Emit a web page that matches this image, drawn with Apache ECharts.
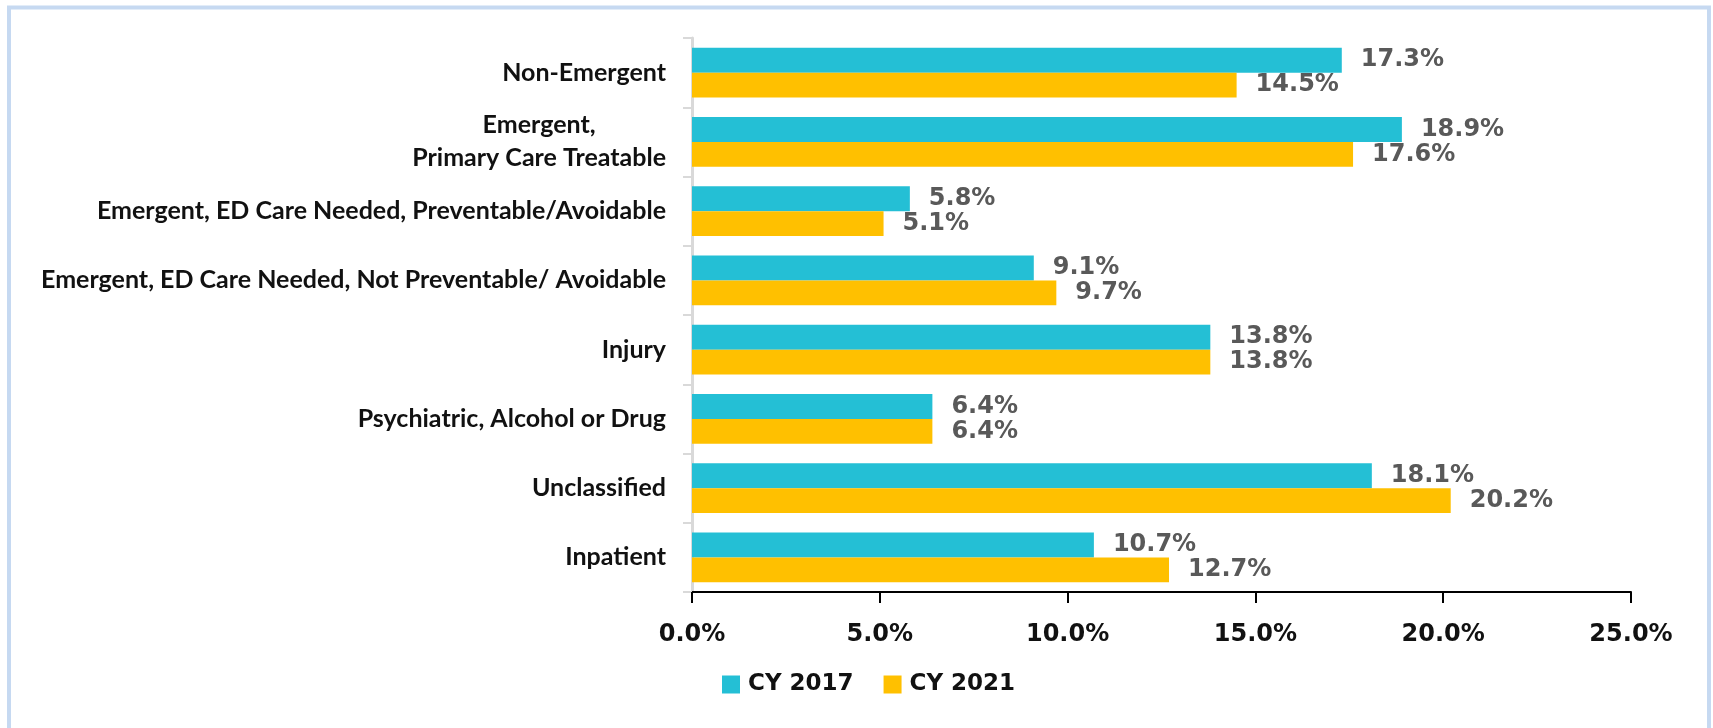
<!DOCTYPE html>
<html>
<head>
<meta charset="utf-8">
<script src="https://cdn.jsdelivr.net/npm/echarts@6/dist/echarts.min.js"></script>
<style>
html, body { margin: 0; padding: 0; background: #fff; }
#main { width: 1713px; height: 728px; }
</style>
</head>
<body>
<div id="main"></div>
<script>
// categories, top to bottom
var categories = [
    'Non-Emergent',
    'Emergent,\nPrimary Care Treatable',
    'Emergent, ED Care Needed, Preventable/Avoidable',
    'Emergent, ED Care Needed, Not Preventable/ Avoidable',
    'Injury',
    'Psychiatric, Alcohol or Drug',
    'Unclassified',
    'Inpatient'
];
var cy2017 = [17.3, 18.9, 5.8, 9.1, 13.8, 6.4, 18.1, 10.7];
var cy2021 = [14.5, 17.6, 5.1, 9.7, 13.8, 6.4, 20.2, 12.7];
var seriesNames = ['CY 2017', 'CY 2021'];

var numFont = 'DejaVu Sans';
var catFont = 'Lato';

function pct(v) { return v.toFixed(1) + '%'; }

var labelStyle = {
    show: true,
    position: 'right',
    distance: 19,
    color: '#595959',
    fontFamily: numFont,
    fontWeight: 'bold',
    fontSize: 24,
    formatter: function (p) { return pct(p.value); }
};

var option = {
    animation: false,
    backgroundColor: '#fff',
    graphic: [{
        type: 'rect',
        shape: { x: 9, y: 7.5, width: 1700, height: 760 },
        style: { fill: 'none', stroke: '#c6d9f1', lineWidth: 4 },
        silent: true
    }],
    legend: {
        left: 717,
        top: 668,
        icon: 'rect',
        itemWidth: 18,
        itemHeight: 18,
        itemGap: 30,
        textStyle: {
            fontFamily: numFont,
            fontWeight: 'bold',
            fontSize: 23,
            color: '#111',
            padding: [0, 0, 0, 3]
        },
        data: seriesNames
    },
    grid: {
        left: 692,
        right: 82,
        top: 38,
        bottom: 136
    },
    xAxis: {
        type: 'value',
        min: 0,
        max: 25,
        interval: 5,
        axisLine: { show: true, lineStyle: { color: '#000', width: 2 } },
        axisTick: { show: true, length: 11, lineStyle: { color: '#000', width: 2 } },
        splitLine: { show: false },
        axisLabel: {
            margin: 31,
            color: '#111',
            fontFamily: numFont,
            fontWeight: 'bold',
            fontSize: 24,
            formatter: function (v) { return pct(v); }
        }
    },
    yAxis: {
        type: 'category',
        inverse: true,
        data: categories,
        axisLine: { show: true, lineStyle: { color: '#d9d9d9', width: 3 } },
        axisTick: { show: true, length: 9, lineStyle: { color: '#d9d9d9', width: 2 } },
        axisLabel: {
            margin: 26,
            color: '#111',
            fontFamily: catFont,
            fontWeight: 'bold',
            fontSize: 25,
            formatter: function (v) {
                if (v.indexOf('\n') >= 0) {
                    return v.split('\n').map(function (s) { return '{c|' + s + '}'; }).join('\n');
                }
                return v;
            },
            rich: {
                c: {
                    align: 'center',
                    lineHeight: 33,
                    color: '#111',
                    fontFamily: catFont,
                    fontWeight: 'bold',
                    fontSize: 25
                }
            }
        }
    },
    series: [
        {
            name: seriesNames[0],
            type: 'bar',
            data: cy2017,
            barGap: '0%',
            barCategoryGap: '28%',
            itemStyle: { color: '#24bfd5' },
            label: labelStyle
        },
        {
            name: seriesNames[1],
            type: 'bar',
            data: cy2021,
            itemStyle: { color: '#ffc000' },
            label: labelStyle
        }
    ]
};

var myChart = echarts.init(document.getElementById('main'));
myChart.setOption(option);
</script>
</body>
</html>
